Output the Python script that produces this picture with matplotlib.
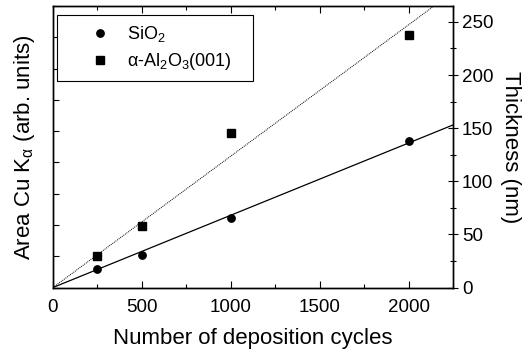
import numpy as np
import matplotlib
matplotlib.use("Agg")
import matplotlib.pyplot as plt
from matplotlib.ticker import MultipleLocator

plt.rcParams['font.family'] = ['Liberation Sans', 'DejaVu Sans']
plt.rcParams['mathtext.fontset'] = 'custom'
plt.rcParams['mathtext.rm'] = 'Liberation Sans'
plt.rcParams['mathtext.it'] = 'Liberation Sans'

# deposition cycles and thickness (nm)
cycles = np.array([250, 500, 1000, 2000])
sio2 = np.array([17, 30.5, 65.8, 138])
al2o3 = np.array([30, 58, 145, 237.7])

labels = ["SiO$_2$", r"$\alpha$-Al$_2$O$_3$(001)"]

# linear fit through the origin
def slope0(x, y):
    return np.sum(x * y) / np.sum(x * x)

xfit = np.array([0, 2250])

fig = plt.figure(figsize=(5.25, 3.54), dpi=100)
ax = fig.add_axes([53/525, 1 - 287.5/354, 400/525, 281.5/354])
ax2 = ax.twinx()

ax2.plot(xfit, slope0(cycles, sio2) * xfit, color='black', lw=0.9)
ax2.plot(xfit, slope0(cycles, al2o3) * xfit, color='black', lw=0.7, ls=(0, (1, 1)))
ax2.plot(cycles, sio2, 'o', color='black', ms=5.3, label=labels[0])
ax2.plot(cycles, al2o3, 's', color='black', ms=5.3, label=labels[1])

ax.set_xlim(0, 2250)
ax.set_ylim(0, 9)
ax2.set_ylim(0, 265)

ax.xaxis.set_major_locator(MultipleLocator(500))
ax.xaxis.set_minor_locator(MultipleLocator(250))
ax.yaxis.set_major_locator(MultipleLocator(1))
ax.set_yticklabels([])
ax.tick_params(axis='y', direction='in', length=4, width=0.8, left=True, right=False)
ax.tick_params(axis='x', which='major', direction='in', length=5, width=0.8, top=True, labelsize=13.5, pad=8)
ax.tick_params(axis='x', which='minor', direction='in', length=3, width=0.8, top=True)

ax2.yaxis.set_major_locator(MultipleLocator(50))
ax2.yaxis.set_minor_locator(MultipleLocator(25))
ax2.tick_params(axis='y', which='major', direction='inout', length=7, width=0.8, labelsize=13.5, pad=3)
ax2.tick_params(axis='y', which='minor', direction='inout', length=5, width=0.8)

for a in (ax, ax2):
    for s in a.spines.values():
        s.set_linewidth(1.0)

ax.set_xlabel("Number of deposition cycles", fontsize=16, labelpad=9)
ax.set_ylabel(r"Area Cu K$_\alpha$ (arb. units)", fontsize=16, labelpad=8)
ax2.set_ylabel("Thickness (nm)", fontsize=16, rotation=270, labelpad=20)

leg = ax2.legend(loc='upper left', bbox_to_anchor=(0.01, 0.968, 0.49, 0.0), mode='expand',
                 fontsize=13, frameon=True, fancybox=False, edgecolor='black', framealpha=1,
                 handlelength=3.8, handletextpad=-0.45, borderpad=0.5, labelspacing=0.4,
                 borderaxespad=0)
leg.get_frame().set_linewidth(0.8)

fig.savefig("out.png", dpi=100)
